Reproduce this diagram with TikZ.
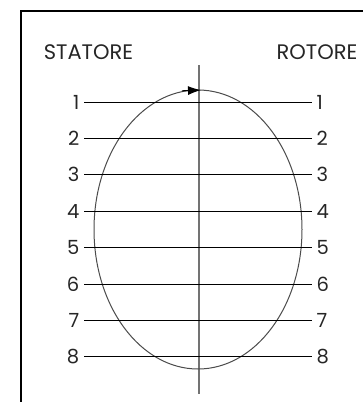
\documentclass[tikz,border=0pt]{standalone}
\usepackage{fontspec}
\setmainfont{Poppins}
\usetikzlibrary{arrows.meta}
\begin{document}
\begin{tikzpicture}[x=1pt,y=-1pt,
  ttl/.style={font=\fontsize{21}{21}\selectfont, inner sep=0pt, text=black!85},
  num/.style={font=\fontsize{19.5}{19.5}\selectfont, inner sep=0pt, text=black!85},
  wire/.style={line width=0.9pt, black},
  axis/.style={line width=1.1pt, black!55},
  orbit/.style={line width=1pt, black!70},
  frame/.style={line width=2pt, black}]
\useasboundingbox (0,0) rectangle (363,402);
\clip (0,0) rectangle (363,402);
\fill[white] (0,0) rectangle (363,402);
% frame (cut by the picture edge)
\coordinate (fb) at (21,420);
\coordinate (fc) at (21,11);
\coordinate (fr) at (390,11);
\draw[frame] (fb) -- (fc) -- (fr);
% titles
\node[ttl] (stat) at (88.5,52.5) {STATORE};
\node[ttl] (rot) at (317,52.5) {ROTORE};
% vertical axis
\coordinate (vt) at (199,65);
\coordinate (vb) at (199,394);
\draw[axis] (vt) -- (vb);
% ellipse
\draw[orbit] (198,229.5) ellipse [x radius=104, y radius=139.5];
% arrow at top
\coordinate (aa) at (182,90.8);
\coordinate (ab) at (201,90.05);
\draw[line width=1pt, -{Latex[length=13pt,width=9pt]}] (aa) -- (ab);
% lines
\foreach \i in {1,...,8}{
  \pgfmathsetmacro{\yy}{102+(\i-1)*36.4}
  \node[num, anchor=east] (L\i) at (79.5,\yy) {\i};
  \node[num, anchor=west] (R\i) at (316.5,\yy) {\i};
  \coordinate (a\i) at (84,\yy);
  \coordinate (b\i) at (312,\yy);
  \draw[wire] (a\i) -- (b\i);
}
\end{tikzpicture}
\end{document}
